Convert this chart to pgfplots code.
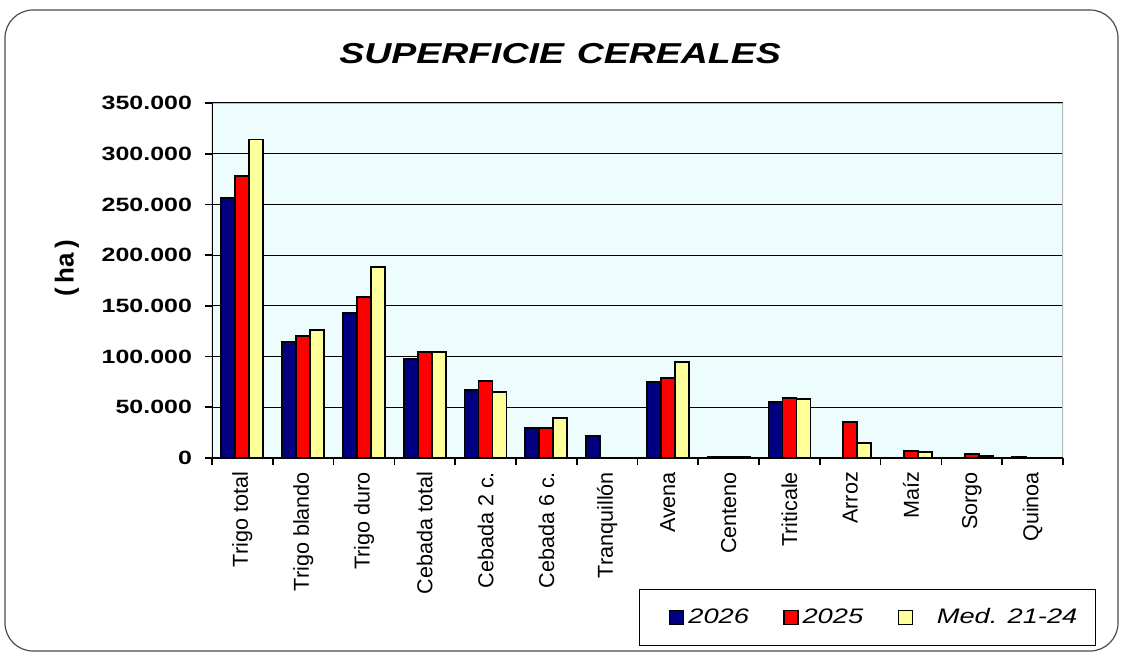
\documentclass[border=0pt]{standalone}
\usepackage{fontspec}
\setmainfont{Liberation Sans}
\newfontfamily\wide[FakeStretch=1.3]{Liberation Sans}
\usepackage{pgfplots}
\pgfplotsset{compat=1.18}
\definecolor{c26}{HTML}{000080}
\definecolor{c25}{HTML}{FF0000}
\definecolor{cmed}{HTML}{FFFF99}
\definecolor{bgc}{HTML}{EDFCFD}
\pgfplotsset{sqlegend/.style={legend image code/.code={%
    \path (-7.5pt,0pt);
    \draw[##1, line width=0.6pt] (0pt,-3.5pt) rectangle (7pt,3.5pt);}}}

\begin{document}
\begin{tikzpicture}
\useasboundingbox (-106pt,-98.5pt) rectangle (455pt,229pt);
\draw[gray!60!black, line width=0.6pt, rounded corners=14pt] (-103.5pt,-96.5pt) rectangle (453pt,224pt);
\begin{axis}[
    scale only axis,
    width=425.5pt, height=177.5pt,
    xmin=-0.5, xmax=13.5,
    ymin=0, ymax=350000,
    ybar=0pt, bar width=7pt,
    axis background/.style={fill=bgc},
    axis line style={draw=none},
    xtick={0,...,13},
    xticklabels={Trigo total, Trigo blando, Trigo duro, Cebada total,
        Cebada 2 c., Cebada 6 c., Tranquillón, Avena, Centeno, Triticale,
        Arroz, Maíz, Sorgo, Quinoa},
    xticklabel style={rotate=90, anchor=east, font=\fontsize{10.8}{12}\selectfont},
    minor xtick={-0.5,0.5,...,13.5},
    major x tick style={draw=none},
    ytick={0,50000,...,350000},
    yticklabels={0, 50.000, 100.000, 150.000, 200.000, 250.000, 300.000, 350.000},
    yticklabel style={font=\wide\bfseries\fontsize{9.6}{11}\selectfont, xshift=-3pt},
    scaled y ticks=false,
    tick pos=left,
    tick align=outside,
    major tick length=3.5pt, minor tick length=3.5pt,
    tick style={black, line width=0.8pt},
    ymajorgrids,
    grid style={black, line width=0.6pt},
    title={SUPERFICIE\hspace{0.45em}CEREALES},
    title style={at={(0.409,1.105)}, anchor=center,
        font=\wide\bfseries\itshape\fontsize{14.4}{16}\selectfont},
    ylabel={(\,ha\,)},
    ylabel style={at={(-0.1704,0.535)}, anchor=center,
        font=\bfseries\fontsize{13}{15}\selectfont},
    legend columns=3,
    legend style={at={(1.0388,-0.369)}, anchor=north east,
        draw=black, line width=0.6pt, fill=white,
        inner xsep=7pt, inner ysep=7.5pt,
        font=\wide\itshape\fontsize{10.5}{12}\selectfont,
        /tikz/every even column/.append style={column sep=7.5pt}},
]
\addplot[fill=c26, draw=black, line width=0.9pt, sqlegend]
    coordinates {(0,256000) (1,114000) (2,143000) (3,97600) (4,67000) (5,29600)
                 (6,21700) (7,75000) (8,1000) (9,55000) (13,1500)};
\addplot[fill=c25, draw=black, line width=0.9pt, sqlegend]
    coordinates {(0,278000) (1,120000) (2,159000) (3,104500) (4,76000) (5,29600)
                 (7,79000) (8,1000) (9,59000) (10,35500) (11,7000) (12,4000)};
\addplot[fill=cmed, draw=black, line width=0.9pt, sqlegend]
    coordinates {(0,314000) (1,126000) (2,188000) (3,104500) (4,65000) (5,39400)
                 (7,94400) (8,1000) (9,58000) (10,14800) (11,6000) (12,2000)};
\legend{2026, 2025, \hspace{10pt}Med. 21-24}
\draw[gray!55, line width=1.2pt] (rel axis cs:0,1) -- (rel axis cs:1,1) -- (rel axis cs:1,0);
\draw[black, line width=1pt] (rel axis cs:0,1) -- (rel axis cs:0,0) -- (rel axis cs:1,0);
\end{axis}
\end{tikzpicture}
\end{document}
